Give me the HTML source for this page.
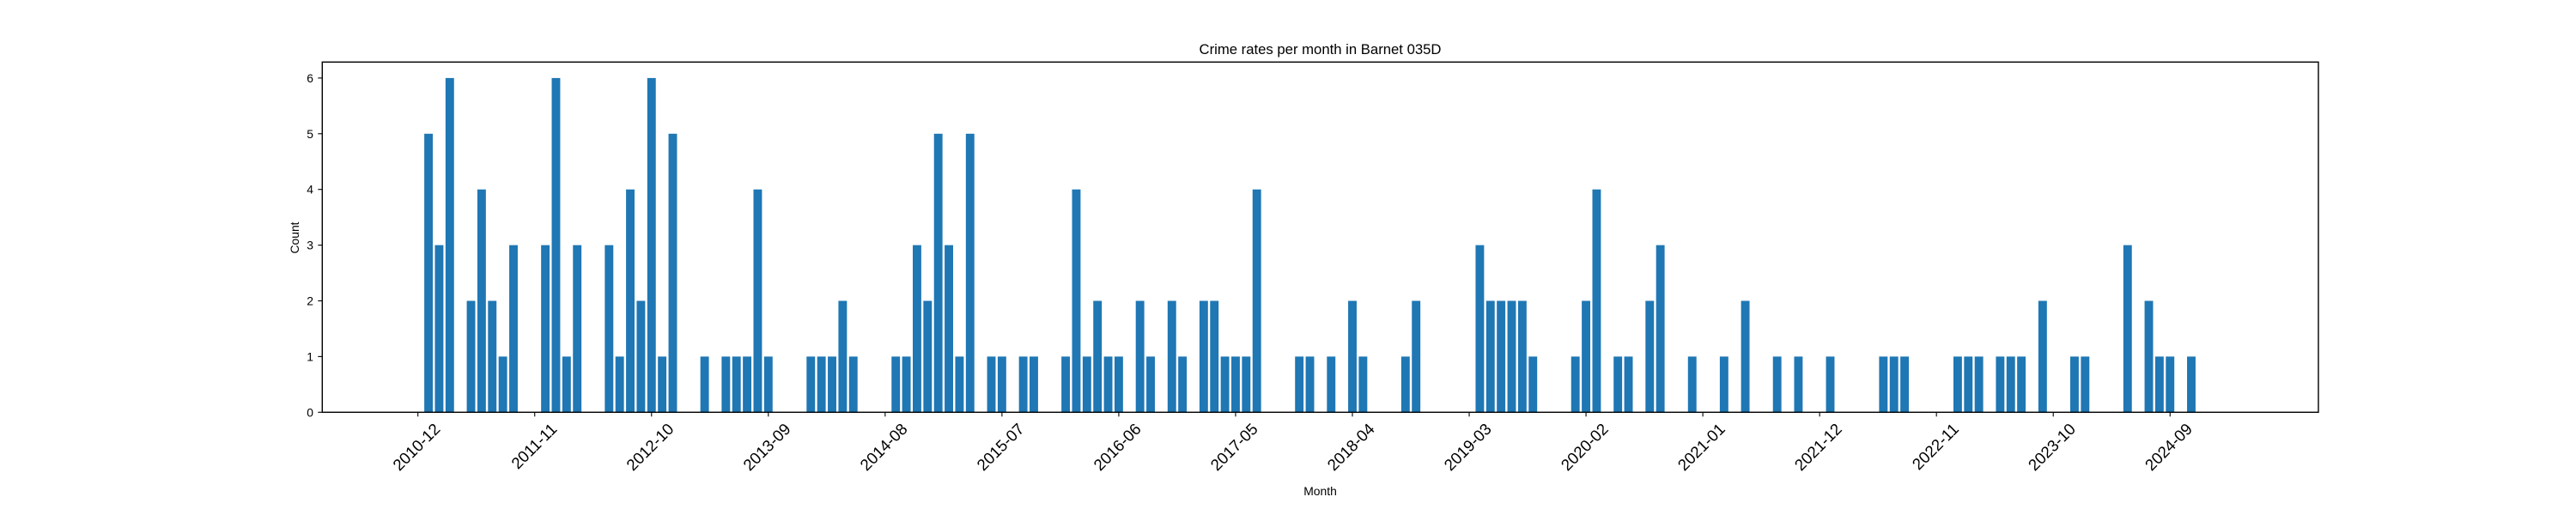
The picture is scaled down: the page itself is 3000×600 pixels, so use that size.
<!DOCTYPE html>
<html><head><meta charset="utf-8"><style>
html,body{margin:0;padding:0;background:#fff}
svg{display:block;font-family:"Liberation Sans","DejaVu Sans",sans-serif}
</style></head><body>
<svg id="chart" width="3000" height="600" xmlns="http://www.w3.org/2000/svg">
<rect width="3000" height="600" fill="#fff"/>
<text x="1537.5" y="63" font-size="16.7" text-anchor="middle" fill="#000">Crime rates per month in Barnet 035D</text>
<g id="bars"></g>
<g id="xaxis"></g>
<g id="yaxis"></g>
<rect x="375.3" y="72.3" width="2324.7" height="408" fill="none" stroke="#000" stroke-width="1.4"/>
<text x="1537.5" y="577" font-size="13.9" text-anchor="middle" fill="#000">Month</text>
<text x="0" y="0" font-size="13.9" text-anchor="middle" fill="#000" transform="translate(348,277) rotate(-90)">Count</text>
</svg>
<script>
const months = ["2011-01","2011-02","2011-03","2011-05","2011-06","2011-07","2011-08","2011-09","2011-12","2012-01","2012-02","2012-03","2012-06","2012-07","2012-08","2012-09","2012-10","2012-11","2012-12","2013-03","2013-05","2013-06","2013-07","2013-08","2013-09","2014-01","2014-02","2014-03","2014-04","2014-05","2014-09","2014-10","2014-11","2014-12","2015-01","2015-02","2015-03","2015-04","2015-06","2015-07","2015-09","2015-10","2016-01","2016-02","2016-03","2016-04","2016-05","2016-06","2016-08","2016-09","2016-11","2016-12","2017-02","2017-03","2017-04","2017-05","2017-06","2017-07","2017-11","2017-12","2018-02","2018-04","2018-05","2018-09","2018-10","2019-04","2019-05","2019-06","2019-07","2019-08","2019-09","2020-01","2020-02","2020-03","2020-05","2020-06","2020-08","2020-09","2020-12","2021-03","2021-05","2021-08","2021-10","2022-01","2022-06","2022-07","2022-08","2023-01","2023-02","2023-03","2023-05","2023-06","2023-07","2023-09","2023-12","2024-01","2024-05","2024-07","2024-08","2024-09","2024-11"];
const counts = [5,3,6,2,4,2,1,3,3,6,1,3,3,1,4,2,6,1,5,1,1,1,1,4,1,1,1,1,2,1,1,1,3,2,5,3,1,5,1,1,1,1,1,4,1,2,1,1,2,1,2,1,2,2,1,1,1,4,1,1,1,2,1,1,2,3,2,2,2,2,1,1,2,4,1,1,2,3,1,1,2,1,1,1,1,1,1,1,1,1,1,1,1,2,1,1,3,2,1,1,1];
const xTickLabels = ["2010-12","2011-11","2012-10","2013-09","2014-08","2015-07","2016-06","2017-05","2018-04","2019-03","2020-02","2021-01","2021-12","2022-11","2023-10","2024-09"];
const yTickLabels = [0,1,2,3,4,5,6];

const NS = "http://www.w3.org/2000/svg";
const X0 = 486.7, STEP = 12.367, BASE = 480.3, UNIT = 64.9, BW = 9.9;
function mIdx(s){const [y,m]=s.split("-").map(Number);return (y-2010)*12+(m-12);}
function xScale(s){return X0 + mIdx(s)*STEP;}
function yScale(v){return BASE - v*UNIT;}
function mk(tag,attrs){const e=document.createElementNS(NS,tag);for(const k in attrs)e.setAttribute(k,attrs[k]);return e;}

const bars=document.getElementById("bars");
months.forEach((m,i)=>{
  const r=mk("rect",{x:xScale(m)-BW/2,y:yScale(counts[i]),width:BW,height:counts[i]*UNIT,fill:"#1f77b4"});
  
  
  bars.appendChild(r);
});
const xa=document.getElementById("xaxis");
xTickLabels.forEach(l=>{
  const x=xScale(l);
  const t=mk("line",{x1:x,y1:BASE,x2:x,y2:BASE+5,stroke:"#000","stroke-width":1.1});
  
  
  xa.appendChild(t);
  const tx=mk("text",{x:0,y:0,"font-size":18.7,"text-anchor":"end",fill:"#000",transform:`translate(${x+27},${501}) rotate(-45)`});
  tx.textContent=l;
  
  
  xa.appendChild(tx);
});
const ya=document.getElementById("yaxis");
yTickLabels.forEach(v=>{
  const y=yScale(v);
  const t=mk("line",{x1:375.3-5,y1:y,x2:375.3,y2:y,stroke:"#000","stroke-width":1.1});
  
  
  ya.appendChild(t);
  const tx=mk("text",{x:365,y:y+5,"font-size":13.9,"text-anchor":"end",fill:"#000"});
  tx.textContent=String(v);
  
  
  ya.appendChild(tx);
});
</script>
</body></html>
